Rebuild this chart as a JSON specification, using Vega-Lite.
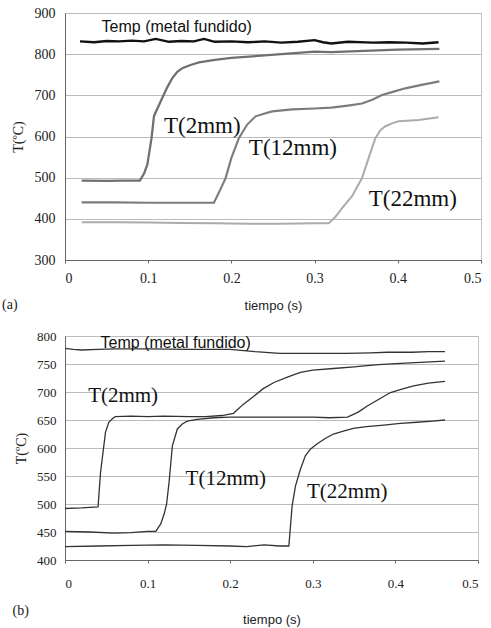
{
  "$schema": "https://vega.github.io/schema/vega-lite/v6.json",
  "padding": {"left": 1, "top": 5, "right": 0, "bottom": 0},
  "background": "white",
  "spacing": 16,
  "config": {
    "view": {"stroke": "#888", "strokeDash": [1, 1], "strokeWidth": 1},
    "axis": {
      "labelFont": "Liberation Serif", "labelColor": "#222", "titleColor": "#222",
      "domainColor": "#666", "tickColor": "#666", "gridColor": "#bbb", "gridWidth": 1,
      "titleFontWeight": "normal", "labelOverlap": false
    }
  },
  "datasets": {
    "a_lines": [
      {"s":"Temp","t":0.018,"T":831},{"s":"Temp","t":0.035,"T":829},{"s":"Temp","t":0.05,"T":832},{"s":"Temp","t":0.065,"T":831},{"s":"Temp","t":0.08,"T":833},{"s":"Temp","t":0.095,"T":831},{"s":"Temp","t":0.109,"T":837},{"s":"Temp","t":0.125,"T":830},{"s":"Temp","t":0.14,"T":832},{"s":"Temp","t":0.155,"T":831},{"s":"Temp","t":0.167,"T":837},{"s":"Temp","t":0.18,"T":830},{"s":"Temp","t":0.2,"T":831},{"s":"Temp","t":0.22,"T":829},{"s":"Temp","t":0.24,"T":831},{"s":"Temp","t":0.26,"T":828},{"s":"Temp","t":0.28,"T":830},{"s":"Temp","t":0.3,"T":834},{"s":"Temp","t":0.31,"T":829},{"s":"Temp","t":0.32,"T":826},{"s":"Temp","t":0.34,"T":830},{"s":"Temp","t":0.37,"T":828},{"s":"Temp","t":0.39,"T":829},{"s":"Temp","t":0.41,"T":828},{"s":"Temp","t":0.43,"T":826},{"s":"Temp","t":0.449,"T":829},
      {"s":"T2","t":0.02,"T":493},{"s":"T2","t":0.05,"T":492},{"s":"T2","t":0.07,"T":493},{"s":"T2","t":0.09,"T":493},{"s":"T2","t":0.095,"T":510},{"s":"T2","t":0.099,"T":532},{"s":"T2","t":0.104,"T":596},{"s":"T2","t":0.107,"T":650},{"s":"T2","t":0.117,"T":694},{"s":"T2","t":0.123,"T":720},{"s":"T2","t":0.129,"T":742},{"s":"T2","t":0.135,"T":757},{"s":"T2","t":0.141,"T":766},{"s":"T2","t":0.15,"T":773},{"s":"T2","t":0.161,"T":780},{"s":"T2","t":0.18,"T":786},{"s":"T2","t":0.2,"T":791},{"s":"T2","t":0.24,"T":797},{"s":"T2","t":0.28,"T":803},{"s":"T2","t":0.3,"T":806},{"s":"T2","t":0.32,"T":805},{"s":"T2","t":0.36,"T":808},{"s":"T2","t":0.4,"T":811},{"s":"T2","t":0.45,"T":813},
      {"s":"T12","t":0.02,"T":440},{"s":"T12","t":0.06,"T":440},{"s":"T12","t":0.1,"T":439},{"s":"T12","t":0.14,"T":439},{"s":"T12","t":0.179,"T":439},{"s":"T12","t":0.186,"T":468},{"s":"T12","t":0.193,"T":499},{"s":"T12","t":0.2,"T":548},{"s":"T12","t":0.209,"T":596},{"s":"T12","t":0.219,"T":629},{"s":"T12","t":0.229,"T":649},{"s":"T12","t":0.24,"T":656},{"s":"T12","t":0.249,"T":661},{"s":"T12","t":0.273,"T":666},{"s":"T12","t":0.3,"T":668},{"s":"T12","t":0.32,"T":670},{"s":"T12","t":0.34,"T":675},{"s":"T12","t":0.357,"T":680},{"s":"T12","t":0.37,"T":690},{"s":"T12","t":0.381,"T":701},{"s":"T12","t":0.395,"T":709},{"s":"T12","t":0.409,"T":717},{"s":"T12","t":0.43,"T":726},{"s":"T12","t":0.45,"T":734},
      {"s":"T22","t":0.02,"T":392},{"s":"T22","t":0.06,"T":392},{"s":"T22","t":0.1,"T":391},{"s":"T22","t":0.14,"T":390},{"s":"T22","t":0.18,"T":389},{"s":"T22","t":0.22,"T":388},{"s":"T22","t":0.26,"T":388},{"s":"T22","t":0.3,"T":389},{"s":"T22","t":0.317,"T":389},{"s":"T22","t":0.325,"T":405},{"s":"T22","t":0.333,"T":426},{"s":"T22","t":0.345,"T":455},{"s":"T22","t":0.357,"T":499},{"s":"T22","t":0.365,"T":548},{"s":"T22","t":0.373,"T":596},{"s":"T22","t":0.379,"T":615},{"s":"T22","t":0.385,"T":625},{"s":"T22","t":0.393,"T":632},{"s":"T22","t":0.401,"T":637},{"s":"T22","t":0.425,"T":640},{"s":"T22","t":0.449,"T":647}
    ],
    "a_labels": [
      {"kind":"sans","label":"Temp (metal fundido)","t":0.044,"T":865},
      {"kind":"serif","label":"T(2mm)","t":0.119,"T":625},
      {"kind":"serif","label":"T(12mm)","t":0.221,"T":572},
      {"kind":"serif","label":"T(22mm)","t":0.365,"T":447}
    ],
    "b_lines": [
      {"s":"Temp","t":0,"T":778},{"s":"Temp","t":0.01,"T":776},{"s":"Temp","t":0.02,"T":775},{"s":"Temp","t":0.04,"T":776},{"s":"Temp","t":0.06,"T":777},{"s":"Temp","t":0.1,"T":777},{"s":"Temp","t":0.15,"T":776},{"s":"Temp","t":0.2,"T":776},{"s":"Temp","t":0.23,"T":772},{"s":"Temp","t":0.26,"T":769},{"s":"Temp","t":0.3,"T":769},{"s":"Temp","t":0.34,"T":769},{"s":"Temp","t":0.37,"T":770},{"s":"Temp","t":0.39,"T":771},{"s":"Temp","t":0.42,"T":771},{"s":"Temp","t":0.44,"T":772},{"s":"Temp","t":0.46,"T":772},
      {"s":"T2","t":0,"T":492},{"s":"T2","t":0.02,"T":493},{"s":"T2","t":0.04,"T":495},{"s":"T2","t":0.043,"T":556},{"s":"T2","t":0.049,"T":628},{"s":"T2","t":0.053,"T":646},{"s":"T2","t":0.058,"T":653},{"s":"T2","t":0.061,"T":656},{"s":"T2","t":0.08,"T":657},{"s":"T2","t":0.1,"T":656},{"s":"T2","t":0.12,"T":657},{"s":"T2","t":0.15,"T":656},{"s":"T2","t":0.17,"T":656},{"s":"T2","t":0.19,"T":658},{"s":"T2","t":0.204,"T":662},{"s":"T2","t":0.215,"T":677},{"s":"T2","t":0.229,"T":693},{"s":"T2","t":0.24,"T":706},{"s":"T2","t":0.253,"T":717},{"s":"T2","t":0.27,"T":727},{"s":"T2","t":0.285,"T":735},{"s":"T2","t":0.3,"T":739},{"s":"T2","t":0.325,"T":742},{"s":"T2","t":0.35,"T":745},{"s":"T2","t":0.366,"T":747},{"s":"T2","t":0.38,"T":749},{"s":"T2","t":0.406,"T":751},{"s":"T2","t":0.43,"T":753},{"s":"T2","t":0.46,"T":755},
      {"s":"T12","t":0,"T":451},{"s":"T12","t":0.03,"T":450},{"s":"T12","t":0.06,"T":448},{"s":"T12","t":0.08,"T":449},{"s":"T12","t":0.1,"T":451},{"s":"T12","t":0.11,"T":451},{"s":"T12","t":0.116,"T":465},{"s":"T12","t":0.12,"T":482},{"s":"T12","t":0.123,"T":500},{"s":"T12","t":0.126,"T":539},{"s":"T12","t":0.13,"T":604},{"s":"T12","t":0.136,"T":634},{"s":"T12","t":0.142,"T":643},{"s":"T12","t":0.148,"T":648},{"s":"T12","t":0.16,"T":651},{"s":"T12","t":0.18,"T":654},{"s":"T12","t":0.2,"T":655},{"s":"T12","t":0.25,"T":655},{"s":"T12","t":0.3,"T":655},{"s":"T12","t":0.32,"T":654},{"s":"T12","t":0.342,"T":655},{"s":"T12","t":0.355,"T":664},{"s":"T12","t":0.366,"T":675},{"s":"T12","t":0.38,"T":687},{"s":"T12","t":0.394,"T":699},{"s":"T12","t":0.41,"T":706},{"s":"T12","t":0.422,"T":711},{"s":"T12","t":0.44,"T":716},{"s":"T12","t":0.46,"T":719},
      {"s":"T22","t":0,"T":424},{"s":"T22","t":0.04,"T":425},{"s":"T22","t":0.08,"T":426},{"s":"T22","t":0.12,"T":427},{"s":"T22","t":0.16,"T":426},{"s":"T22","t":0.2,"T":425},{"s":"T22","t":0.22,"T":424},{"s":"T22","t":0.241,"T":427},{"s":"T22","t":0.26,"T":425},{"s":"T22","t":0.271,"T":425},{"s":"T22","t":0.275,"T":497},{"s":"T22","t":0.279,"T":532},{"s":"T22","t":0.285,"T":562},{"s":"T22","t":0.291,"T":586},{"s":"T22","t":0.297,"T":598},{"s":"T22","t":0.305,"T":607},{"s":"T22","t":0.315,"T":617},{"s":"T22","t":0.325,"T":625},{"s":"T22","t":0.337,"T":630},{"s":"T22","t":0.349,"T":635},{"s":"T22","t":0.365,"T":638},{"s":"T22","t":0.386,"T":641},{"s":"T22","t":0.406,"T":644},{"s":"T22","t":0.426,"T":646},{"s":"T22","t":0.445,"T":648},{"s":"T22","t":0.46,"T":650}
    ],
    "b_labels": [
      {"kind":"sans","label":"Temp (metal fundido)","t":0.043,"T":787},
      {"kind":"serif","label":"T(2mm)","t":0.028,"T":692},
      {"kind":"serif","label":"T(12mm)","t":0.146,"T":544},
      {"kind":"serif","label":"T(22mm)","t":0.293,"T":521}
    ]
  },
  "resolve": {"scale": {"color": "independent", "strokeWidth": "independent"}},
  "vconcat": [
    {
      "width": 416, "height": 247,
      "title": {"text": "(a)", "orient": "bottom", "anchor": "start", "frame": "bounds", "font": "Liberation Serif", "fontSize": 14, "fontWeight": "normal", "color": "#222", "offset": -14, "dx": -9},
      "encoding": {
        "x": {"field": "t", "type": "quantitative", "scale": {"domain": [0, 0.5], "nice": false},
              "axis": {"values": [0, 0.1, 0.2, 0.3, 0.4, 0.5], "format": ".1~f", "labelFontSize": 14, "labelPadding": 8, "tickSize": 3, "grid": false, "title": "tiempo (s)", "titleFont": "Liberation Sans", "titleFontSize": 13, "titlePadding": 14}},
        "y": {"field": "T", "type": "quantitative", "scale": {"domain": [300, 900], "nice": false, "zero": false},
              "axis": {"values": [300, 400, 500, 600, 700, 800, 900], "labelFontSize": 14, "ticks": false, "labelPadding": 10, "grid": true, "title": "T(ºC)", "titleFont": "Liberation Serif", "titleFontSize": 14, "titlePadding": 9}}
      },
      "layer": [
        {
          "data": {"name": "a_lines"},
          "mark": {"type": "line", "interpolate": "linear"},
          "encoding": {
            "color": {"field": "s", "type": "nominal", "legend": null, "scale": {"domain": ["Temp", "T2", "T12", "T22"], "range": ["#111111", "#707070", "#7c7c7c", "#ababab"]}},
            "strokeWidth": {"field": "s", "type": "nominal", "legend": null, "scale": {"domain": ["Temp", "T2", "T12", "T22"], "range": [2.4, 2, 2, 2]}}
          }
        },
        {
          "data": {"name": "a_labels"},
          "transform": [{"filter": "datum.kind == 'sans'"}],
          "mark": {"type": "text", "align": "left", "baseline": "middle", "font": "Liberation Sans", "fontSize": 16, "color": "#111"},
          "encoding": {"text": {"field": "label"}}
        },
        {
          "data": {"name": "a_labels"},
          "transform": [{"filter": "datum.kind == 'serif'"}],
          "mark": {"type": "text", "align": "left", "baseline": "middle", "font": "Liberation Serif", "fontSize": 23, "color": "#111"},
          "encoding": {"text": {"field": "label"}}
        }
      ]
    },
    {
      "width": 413, "height": 224,
      "title": {"text": "(b)", "orient": "bottom", "anchor": "start", "frame": "bounds", "font": "Liberation Serif", "fontSize": 14, "fontWeight": "normal", "color": "#222", "offset": -22, "dx": -2},
      "encoding": {
        "x": {"field": "t", "type": "quantitative", "scale": {"domain": [0, 0.5], "nice": false},
              "axis": {"values": [0, 0.1, 0.2, 0.3, 0.4, 0.5], "format": ".1~f", "labelFontSize": 13, "labelPadding": 14, "tickSize": 3, "grid": false, "title": "tiempo (s)", "titleFont": "Liberation Sans", "titleFontSize": 13, "titlePadding": 23}},
        "y": {"field": "T", "type": "quantitative", "scale": {"domain": [400, 800], "nice": false, "zero": false},
              "axis": {"values": [400, 450, 500, 550, 600, 650, 700, 750, 800], "labelFontSize": 13, "ticks": false, "labelPadding": 9, "grid": true, "title": "T(ºC)", "titleFont": "Liberation Serif", "titleFontSize": 14, "titlePadding": 8}}
      },
      "layer": [
        {
          "data": {"name": "b_lines"},
          "mark": {"type": "line", "interpolate": "linear"},
          "encoding": {
            "color": {"field": "s", "type": "nominal", "legend": null, "scale": {"domain": ["Temp", "T2", "T12", "T22"], "range": ["#333333", "#333333", "#333333", "#333333"]}},
            "strokeWidth": {"field": "s", "type": "nominal", "legend": null, "scale": {"domain": ["Temp", "T2", "T12", "T22"], "range": [1.3, 1.3, 1.3, 1.3]}}
          }
        },
        {
          "data": {"name": "b_labels"},
          "transform": [{"filter": "datum.kind == 'sans'"}],
          "mark": {"type": "text", "align": "left", "baseline": "middle", "font": "Liberation Sans", "fontSize": 16, "color": "#111"},
          "encoding": {"text": {"field": "label"}}
        },
        {
          "data": {"name": "b_labels"},
          "transform": [{"filter": "datum.kind == 'serif'"}],
          "mark": {"type": "text", "align": "left", "baseline": "middle", "font": "Liberation Serif", "fontSize": 21, "color": "#111"},
          "encoding": {"text": {"field": "label"}}
        }
      ]
    }
  ]
}
